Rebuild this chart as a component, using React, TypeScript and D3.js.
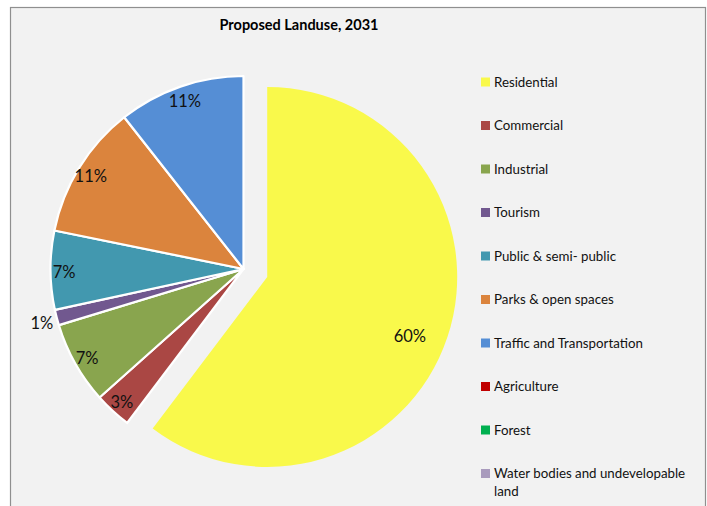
import React, { useEffect, useRef } from "react";
import * as d3 from "d3";

const categories = [
  "Residential",
  "Commercial",
  "Industrial",
  "Tourism",
  "Public & semi- public",
  "Parks & open spaces",
  "Traffic and Transportation",
  "Agriculture",
  "Forest",
  "Water bodies and undevelopable land",
];
const values = [60.3, 3.1, 6.9, 1.3, 6.6, 11.2, 10.6, 0, 0, 0];
const colors = [
  "#F9F94B",
  "#AA4744",
  "#89A54E",
  "#71588F",
  "#4298AF",
  "#DB843D",
  "#558ED5",
  "#C00000",
  "#00B050",
  "#A99BBD",
];
const legendLines = [
  ["Residential"],
  ["Commercial"],
  ["Industrial"],
  ["Tourism"],
  ["Public & semi- public"],
  ["Parks & open spaces"],
  ["Traffic and Transportation"],
  ["Agriculture"],
  ["Forest"],
  ["Water bodies and undevelopable", "land"],
];
const title = "Proposed Landuse, 2031";

export default function App() {
  const ref = useRef<SVGSVGElement>(null);

  useEffect(() => {
    document.body.style.margin = "0";
    const svg = d3.select(ref.current);
    svg.selectAll("*").remove();
    const W = 707, H = 506;
    const font = "Lato, 'Open Sans', sans-serif";

    svg.append("rect").attr("x", 0).attr("y", 0).attr("width", W).attr("height", H).attr("fill", "#ffffff");
    svg
      .append("rect")
      .attr("x", 10.5)
      .attr("y", 7.5)
      .attr("width", 695)
      .attr("height", 520)
      .attr("fill", "#F2F2F2")
      .attr("stroke", "#8f8f8f")
      .attr("stroke-width", 1.2);

    svg
      .append("text")
      .attr("x", 299)
      .attr("y", 30)
      .attr("text-anchor", "middle")
      .attr("font-family", font)
      .attr("font-weight", "bold")
      .attr("font-size", 14.5)
      .attr("fill", "#000")
      .text(title);

    const cx = 243.5, cy = 269, R = 193;
    const explodeR = 190, explodeOff = 25;
    const data = categories.map((c, i) => ({ name: c, value: values[i], color: colors[i], idx: i }));
    const pie = d3.pie<any>().sort(null).value((d) => d.value).startAngle(0).endAngle(2 * Math.PI);
    const arcs = pie(data).filter((a) => a.data.value > 0);

    const g = svg.append("g").attr("transform", `translate(${cx},${cy})`);
    arcs.forEach((a) => {
      const isRes = a.data.idx === 0;
      const mid = (a.startAngle + a.endAngle) / 2;
      const off = isRes ? explodeOff : 0;
      const ox = Math.sin(mid) * off, oy = -Math.cos(mid) * off;
      const r = isRes ? explodeR : R;
      const arc = d3.arc<any>().innerRadius(0).outerRadius(r);
      g.append("path")
        .attr("d", arc(a) as string)
        .attr("transform", `translate(${ox},${oy})`)
        .attr("fill", a.data.color)
        .attr("stroke", "#ffffff")
        .attr("stroke-width", isRes ? 0 : 2.2)
        .attr("stroke-linejoin", "round");

      const pct = Math.round(a.data.value) + "%";
      let lf = 0.93;
      let la = mid;
      if (isRes) { lf = 0.81; la = mid + 0.06; }
      if (a.data.value < 2) lf = 1.08;
      const lx = ox + Math.sin(la) * r * lf;
      const ly = oy - Math.cos(la) * r * lf;
      g.append("text")
        .attr("x", lx)
        .attr("y", ly)
        .attr("dy", "0.45em")
        .attr("text-anchor", "middle")
        .attr("font-family", font)
        .attr("font-size", 16.5)
        .attr("fill", "#111")
        .text(pct);
    });

    const lg = svg.append("g");
    const ly0 = 82, step = 43.5;
    legendLines.forEach((lines, i) => {
      const y = ly0 + i * step;
      lg.append("rect").attr("x", 481).attr("y", y - 4.5).attr("width", 9).attr("height", 9).attr("fill", colors[i]);
      lines.forEach((t, j) => {
        lg.append("text")
          .attr("x", 494)
          .attr("y", y + 4.5 + j * 18)
          .attr("font-family", font)
          .attr("font-size", 13.3)
          .attr("fill", "#111")
          .text(t);
      });
    });
  }, []);

  return (
    <div style={{ position: "absolute", left: 0, top: 0 }}>
      <svg ref={ref} width={707} height={506} style={{ display: "block" }} />
    </div>
  );
}
